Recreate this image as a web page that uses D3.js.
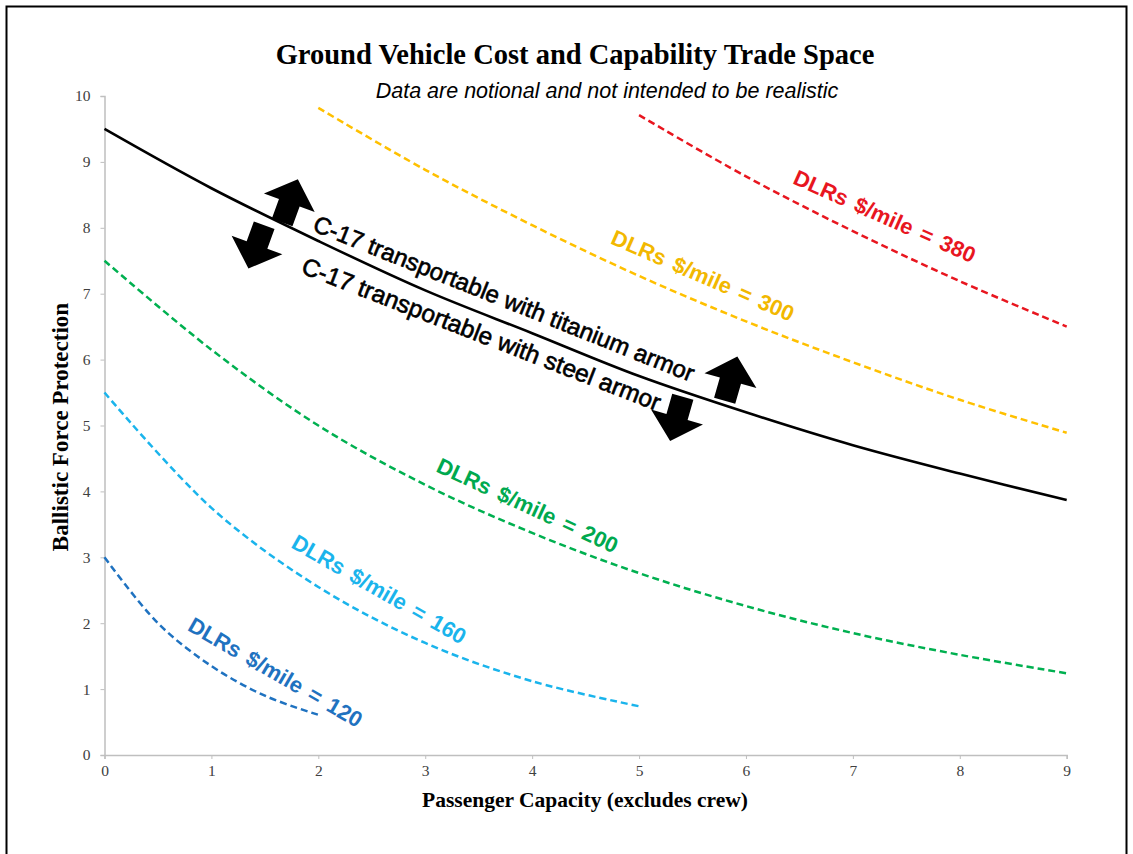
<!DOCTYPE html>
<html>
<head>
<meta charset="utf-8">
<script src="https://cdn.jsdelivr.net/npm/d3@7"></script>
<style>
  html, body { margin: 0; padding: 0; background: #fff; }
  svg { display: block; }
</style>
</head>
<body>
<svg id="chart" width="1133" height="854"></svg>
<script>
// ---------- data ----------
const xTicks = [0, 1, 2, 3, 4, 5, 6, 7, 8, 9];
const yTicks = [0, 1, 2, 3, 4, 5, 6, 7, 8, 9, 10];

const c17X = [0, 1, 2, 3, 4, 5, 6, 7, 8, 9];
const c17Y = [9.5, 8.6, 7.8, 7.05, 6.4, 5.75, 5.2, 4.7, 4.27, 3.87];

const dlr380X = [5, 6, 7, 8, 9];
const dlr380Y = [9.71, 8.78, 7.95, 7.19, 6.5];

const dlr300X = [2, 3, 4, 5, 6, 7, 8, 9];
const dlr300Y = [9.82, 8.88, 8.04, 7.27, 6.58, 5.96, 5.39, 4.89];

const dlr200X = [0, 1, 2, 3, 4, 5, 6, 7, 8, 9];
const dlr200Y = [7.5, 6.15, 5.0, 4.1, 3.37, 2.76, 2.26, 1.85, 1.52, 1.24];

const dlr160X = [0, 1, 2, 3, 4, 5];
const dlr160Y = [5.5, 3.75, 2.55, 1.7, 1.12, 0.74];

const dlr120X = [0, 0.5, 1, 1.5, 2];
const dlr120Y = [3.0, 2.0, 1.35, 0.9, 0.61];

const seriesNames = ["DLRs $/mile = 380", "DLRs $/mile = 300", "DLRs $/mile = 200", "DLRs $/mile = 160", "DLRs $/mile = 120"];
const c17Labels = ["C-17 transportable with titanium armor", "C-17 transportable with steel armor"];

// label anchor points (data coords) and rotation
const labelX = [7.29, 5.59, 3.95, 2.56, 1.59];
const labelY = [8.15, 7.25, 3.76, 2.49, 1.23];
const labelAngle = [24, 23.5, 24.8, 29.8, 30];

const c17LabelX = [3.73, 3.52];
const c17LabelY = [6.90, 6.36];
const c17LabelAngle = [21.8, 21.2];

// arrow annotations (data coords), direction, tilt
const arrowX = [1.735, 1.42, 5.86, 5.35];
const arrowY = [8.41, 7.71, 5.71, 5.10];
const arrowDir = ["up", "down", "up", "down"];
const arrowTilt = [20, 20, 16, 16];

// ---------- layout ----------
const svg = d3.select("#chart");
const plot = { left: 104.5, right: 1066.7, top: 96, bottom: 755 };

const x = d3.scaleLinear().domain([0, 9]).range([plot.left, plot.right]);
const y = d3.scaleLinear().domain([0, 10]).range([plot.bottom, plot.top]);

// frame
svg.append("rect").attr("x", 6.5).attr("y", 6.5).attr("width", 1120).attr("height", 852)
  .attr("fill", "#fff").attr("stroke", "#000").attr("stroke-width", 2);

const serif = "Liberation Serif, Times New Roman, serif";
const sans = "Liberation Sans, Arial, sans-serif";

// title
svg.append("text").attr("x", 575).attr("y", 64).attr("text-anchor", "middle")
  .attr("font-family", serif).attr("font-weight", "bold")
  .attr("font-size", 28.5).attr("fill", "#000")
  .text("Ground Vehicle Cost and Capability Trade Space");
svg.append("text").attr("x", 607).attr("y", 98).attr("text-anchor", "middle")
  .attr("font-family", sans).attr("font-style", "italic")
  .attr("font-size", 21.5).attr("fill", "#000")
  .text("Data are notional and not intended to be realistic");

// axes
const axisColor = "#bfbfbf";
const xAxis = svg.append("g").attr("transform", `translate(0,${plot.bottom})`)
  .call(d3.axisBottom(x).tickValues(xTicks).tickSize(4).tickPadding(6).tickFormat(d3.format("d")));
const yAxis = svg.append("g").attr("transform", `translate(${plot.left},0)`)
  .call(d3.axisLeft(y).tickValues(yTicks).tickSize(4).tickPadding(10).tickFormat(d3.format("d")));
[xAxis, yAxis].forEach(g => {
  g.select(".domain").attr("stroke", axisColor).attr("stroke-width", 1.5);
  g.selectAll(".tick line").attr("stroke", axisColor).attr("stroke-width", 1);
  g.selectAll(".tick text").attr("font-family", serif)
    .attr("font-size", 15.5).attr("fill", "#404040");
});

// axis titles
svg.append("text").attr("x", 585).attr("y", 807).attr("text-anchor", "middle")
  .attr("font-family", serif).attr("font-weight", "bold")
  .attr("font-size", 21.5).attr("fill", "#000")
  .text("Passenger Capacity (excludes crew)");
svg.append("text").attr("transform", "translate(68,427) rotate(-90)").attr("text-anchor", "middle")
  .attr("font-family", serif).attr("font-weight", "bold")
  .attr("font-size", 23).attr("fill", "#000")
  .text("Ballistic Force Protection");

// lines
const line = d3.line().x(d => x(d[0])).y(d => y(d[1])).curve(d3.curveCatmullRom.alpha(0.5));
const zip = (a, b) => a.map((v, i) => [v, b[i]]);

const dashed = [
  { xs: dlr380X, ys: dlr380Y, color: "#e8161f" },
  { xs: dlr300X, ys: dlr300Y, color: "#ffc000" },
  { xs: dlr200X, ys: dlr200Y, color: "#00b050" },
  { xs: dlr160X, ys: dlr160Y, color: "#1ab4ec" },
  { xs: dlr120X, ys: dlr120Y, color: "#1f72c0" }
];
const labelColors = ["#e8161f", "#f2b800", "#00a94f", "#1ab4ec", "#1f72c0"];

dashed.forEach(s => {
  svg.append("path").attr("d", line(zip(s.xs, s.ys)))
    .attr("fill", "none").attr("stroke", s.color).attr("stroke-width", 2.5)
    .attr("stroke-dasharray", "7,4");
});
svg.append("path").attr("d", line(zip(c17X, c17Y)))
  .attr("fill", "none").attr("stroke", "#000").attr("stroke-width", 2.6);

// labels
seriesNames.forEach((t, i) => {
  svg.append("text")
    .attr("transform", `translate(${x(labelX[i])},${y(labelY[i])}) rotate(${labelAngle[i]})`)
    .attr("text-anchor", "middle").attr("dominant-baseline", "middle")
    .attr("font-family", sans).attr("font-weight", "bold")
    .attr("font-size", 22).attr("word-spacing", 3).attr("fill", labelColors[i])
    .text(t);
});
c17Labels.forEach((t, i) => {
  svg.append("text")
    .attr("transform", `translate(${x(c17LabelX[i])},${y(c17LabelY[i])}) rotate(${c17LabelAngle[i]})`)
    .attr("text-anchor", "middle").attr("dominant-baseline", "middle")
    .attr("font-family", sans)
    .attr("font-size", i === 0 ? 24 : 24.5).attr("fill", "#000")
    .attr("stroke", "#000").attr("stroke-width", 0.6)
    .text(t);
});

// block arrows
const upArrow = "M0,-23 L27,2 L11,2 L11,23 L-11,23 L-11,2 L-27,2 Z";
arrowX.forEach((ax, i) => {
  const rot = arrowDir[i] === "up" ? arrowTilt[i] : arrowTilt[i] + 180;
  svg.append("path").attr("d", upArrow)
    .attr("transform", `translate(${x(ax)},${y(arrowY[i])}) rotate(${rot})`)
    .attr("fill", "#000");
});
</script>
</body>
</html>
